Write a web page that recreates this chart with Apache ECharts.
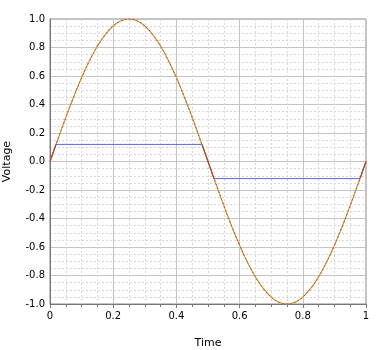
<!DOCTYPE html>
<html><head><meta charset="utf-8">
<script src="https://cdn.jsdelivr.net/npm/echarts@6/dist/echarts.min.js"></script>
<style>html,body{margin:0;padding:0;background:#fff}#c{width:383px;height:350px}</style>
</head><body><div id="c"></div>
<script>
// Sine input, x step 0.025
const timeValues = [0,0.025,0.05,0.075,0.1,0.125,0.15,0.175,0.2,0.225,0.25,0.275,0.3,0.325,0.35,0.375,0.4,0.425,0.45,0.475,0.5,0.525,0.55,0.575,0.6,0.625,0.65,0.675,0.7,0.725,0.75,0.775,0.8,0.825,0.85,0.875,0.9,0.925,0.95,0.975,1];
const sineValues = [0,0.156,0.309,0.454,0.588,0.707,0.809,0.891,0.951,0.988,1,0.988,0.951,0.891,0.809,0.707,0.588,0.454,0.309,0.156,0,-0.156,-0.309,-0.454,-0.588,-0.707,-0.809,-0.891,-0.951,-0.988,-1,-0.988,-0.951,-0.891,-0.809,-0.707,-0.588,-0.454,-0.309,-0.156,0];
// Clipped output: flat (saturated) segments and transition segments
const clipHighX = [0.019, 0.481];
const clipHighY = [0.12, 0.12];
const clipLowX = [0.519, 0.981];
const clipLowY = [-0.12, -0.12];
const transX = [[0, 0.019], [0.481, 0.5, 0.519], [0.981, 1]];
const transY = [[0, 0.12], [0.12, 0, -0.12], [-0.12, 0]];
const xTickLabels = {0:'0',0.2:'0.2',0.4:'0.4',0.6:'0.6',0.8:'0.8',1:'1'};

const sineData = timeValues.map((t,i)=>[t, sineValues[i]]);
const zip = (xs, ys) => xs.map((x,i)=>[x, ys[i]]);
const font = 'DejaVu Sans';
const chart = echarts.init(document.getElementById('c'), null, {renderer:'canvas'});
const transSeries = transX.map((xs,k)=>({
  type:'line', data: zip(xs, transY[k]), showSymbol:false, symbol:'none',
  lineStyle:{color:'#a04a3c', width:1.2}, z:5, animation:false
}));
chart.setOption({
  animation:false,
  grid:{left:50, right:17, top:19, bottom:46, containLabel:false, outerBoundsMode:'none',
    show:true, borderColor:'#888', borderWidth:1, backgroundColor:'#fff'},
  xAxis:{
    type:'value', min:0, max:1, interval:0.2,
    name:'Time', nameLocation:'middle', nameGap:34,
    nameTextStyle:{fontFamily:font, fontSize:11, color:'#000'},
    axisLine:{show:true, onZero:false, lineStyle:{color:'#777'}},
    axisTick:{show:true, length:4, lineStyle:{color:'#777'}},
    minorTick:{show:true, splitNumber:4, length:3, lineStyle:{color:'#777'}},
    axisLabel:{fontFamily:font, fontSize:10, color:'#000', margin:7,
      formatter:v=>xTickLabels[Math.round(v*10)/10] ?? ''},
    splitLine:{show:true, lineStyle:{color:'#c4c4c4', width:1}},
    minorSplitLine:{show:true, lineStyle:{color:'#d6d6d6', type:[2,2]}}
  },
  yAxis:{
    type:'value', min:-1, max:1, interval:0.2,
    name:'Voltage', nameLocation:'middle', nameGap:37, nameRotate:90,
    nameTextStyle:{fontFamily:font, fontSize:11, color:'#000'},
    axisLine:{show:true, lineStyle:{color:'#777'}},
    axisTick:{show:false},
    minorTick:{show:false, splitNumber:4},
    axisLabel:{fontFamily:font, fontSize:10, color:'#000', margin:5,
      formatter:v=>(Math.abs(v)<1e-9?0:v).toFixed(1)},
    splitLine:{show:true, lineStyle:{color:'#c4c4c4', width:1}},
    minorSplitLine:{show:true, lineStyle:{color:'#d6d6d6', type:[2,2]}}
  },
  series:[
    {type:'line', data:sineData, smooth:true, showSymbol:false, symbol:'none',
      lineStyle:{color:'#e09a3a', width:1.2}, z:3, animation:false},
    {type:'line', data:sineData, smooth:true, showSymbol:false, symbol:'none',
      lineStyle:{color:'#a0603a', width:1, type:[2,2]}, z:4, animation:false},
    {type:'line', data:zip(clipHighX, clipHighY), showSymbol:false, symbol:'none',
      lineStyle:{color:'#5a64f0', width:1}, z:5, animation:false},
    {type:'line', data:zip(clipLowX, clipLowY), showSymbol:false, symbol:'none',
      lineStyle:{color:'#5a64f0', width:1}, z:5, animation:false},
    ...transSeries
  ]
});
</script></body></html>
